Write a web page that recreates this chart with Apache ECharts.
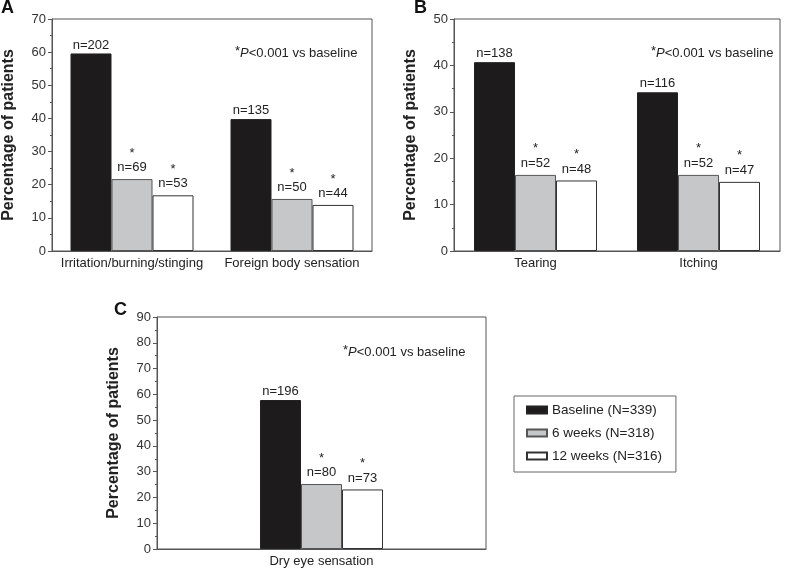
<!DOCTYPE html>
<html>
<head>
<meta charset="utf-8">
<script src="https://cdn.jsdelivr.net/npm/echarts@6/dist/echarts.min.js"></script>
<style>
html,body{margin:0;padding:0;background:#fff;}
#chart{width:786px;height:568px;}
</style>
</head>
<body>
<div id="chart"></div>
<script>
// ---- Data ----
const seriesNames = ['Baseline (N=339)', '6 weeks (N=318)', '12 weeks (N=316)'];

const categoriesA = ['Irritation/burning/stinging', 'Foreign body sensation'];
const baselineA = [59.6, 39.8];
const week6A = [21.7, 15.7];
const week12A = [16.8, 13.9];
const nBaselineA = [202, 135];
const n6A = [69, 50];
const n12A = [53, 44];

const categoriesB = ['Tearing', 'Itching'];
const baselineB = [40.7, 34.2];
const week6B = [16.4, 16.4];
const week12B = [15.2, 14.9];
const nBaselineB = [138, 116];
const n6B = [52, 52];
const n12B = [48, 47];

const categoriesC = ['Dry eye sensation'];
const baselineC = [57.8];
const week6C = [25.2];
const week12C = [23.1];
const nBaselineC = [196];
const n6C = [80];
const n12C = [73];

const yMaxA = 70, yMaxB = 50, yMaxC = 90;
const yInterval = 10;
const yTitle = 'Percentage of patients';
const noteParts = ['*', 'P', '<0.001 vs baseline'];

// ---- Styles ----
const font = 'Liberation Sans, Arial, Helvetica, sans-serif';
const colors = ['#1e1b1c', '#c6c7c9', '#ffffff'];
const borders = ['#222222', '#555555', '#333333'];
const axisColor = '#555';

function yAxisCfg(gridIndex, max) {
  return {
    type: 'value', gridIndex: gridIndex, min: 0, max: max, interval: yInterval,
    name: yTitle, nameLocation: 'middle', nameGap: 35,
    nameTextStyle: { fontFamily: font, fontSize: 16, fontWeight: 'bold', color: '#222' },
    axisLine: { show: true, lineStyle: { color: axisColor, width: 1 } },
    axisTick: { show: true, inside: false, length: 4, lineStyle: { color: axisColor } },
    minorTick: { show: true, splitNumber: 2, length: 2, lineStyle: { color: axisColor } },
    axisLabel: { fontFamily: font, fontSize: 13, color: '#333', margin: 6 },
    splitLine: { show: false }
  };
}
function xAxisCfg(gridIndex, cats) {
  return {
    type: 'category', gridIndex: gridIndex, data: cats,
    axisLine: { show: true, lineStyle: { color: axisColor, width: 1 } },
    axisTick: { show: false },
    axisLabel: { fontFamily: font, fontSize: 13, color: '#222', margin: 6, interval: 0, hideOverlap: false },
    splitLine: { show: false }
  };
}
function barSeries(idx, gridIdx, values, ns) {
  const star = idx > 0;
  return {
    type: 'bar', name: seriesNames[idx],
    xAxisIndex: gridIdx, yAxisIndex: gridIdx,
    data: values, barWidth: 41, barGap: '0%',
    itemStyle: { color: colors[idx], borderColor: borders[idx], borderWidth: 1 },
    label: {
      show: true, position: 'top', distance: star ? 4 : 1,
      fontFamily: font, color: '#222',
      formatter: function (p) {
        const t = '{n|n=' + ns[p.dataIndex] + '}';
        return star ? '{s|*}\n' + t : t;
      },
      rich: {
        s: { fontFamily: font, fontSize: 13, lineHeight: 14, color: '#222' },
        n: { fontFamily: font, fontSize: 13, lineHeight: 15, color: '#222' }
      }
    },
    emphasis: { disabled: true }
  };
}
function noteTitle(left, top) {
  return {
    text: '{a|' + noteParts[0] + '}{p|' + noteParts[1] + '}{b|' + noteParts[2] + '}',
    left: left, top: top, padding: 0,
    textStyle: {
      fontFamily: font, fontSize: 13, fontWeight: 'normal', color: '#222',
      rich: {
        a: { fontFamily: font, fontSize: 13, fontWeight: 'normal', color: '#222', padding: [0, 0, 3, 0] },
        p: { fontFamily: font, fontSize: 13, fontWeight: 'normal', fontStyle: 'italic', color: '#222' },
        b: { fontFamily: font, fontSize: 13, fontWeight: 'normal', color: '#222' }
      }
    }
  };
}
function letterTitle(t, left, top) {
  return { text: t, left: left, top: top, padding: 0,
    textStyle: { fontFamily: font, fontSize: 18, fontWeight: 'bold', color: '#111' } };
}

const chart = echarts.init(document.getElementById('chart'), null, { renderer: 'canvas' });
const gridStyle = { show: true, borderColor: axisColor, borderWidth: 1, backgroundColor: 'transparent', containLabel: false };

chart.setOption({
  animation: false,
  backgroundColor: '#fff',
  title: [
    letterTitle('A', 1, -1),
    letterTitle('B', 414, -1),
    letterTitle('C', 114, 301),
    noteTitle(235, 45),
    noteTitle(651, 45),
    noteTitle(343, 344)
  ],
  legend: {
    data: seriesNames, orient: 'vertical', left: 514, top: 396,
    icon: 'rect', itemWidth: 20, itemHeight: 7, itemGap: 9,
    padding: [7, 14, 9, 12],
    borderColor: '#666', borderWidth: 1,
    textStyle: { fontFamily: font, fontSize: 13.5, color: '#222', lineHeight: 14 },
    selectedMode: false
  },
  grid: [
    Object.assign({ left: 44, top: 19, width: 328, height: 232 }, gridStyle),
    Object.assign({ left: 454, top: 19, width: 326, height: 232 }, gridStyle),
    Object.assign({ left: 157, top: 317, width: 329, height: 233 }, gridStyle)
  ],
  xAxis: [xAxisCfg(0, categoriesA), xAxisCfg(1, categoriesB), xAxisCfg(2, categoriesC)],
  yAxis: [yAxisCfg(0, yMaxA), yAxisCfg(1, yMaxB), yAxisCfg(2, yMaxC)],
  series: [
    barSeries(0, 0, baselineA, nBaselineA),
    barSeries(1, 0, week6A, n6A),
    barSeries(2, 0, week12A, n12A),
    barSeries(0, 1, baselineB, nBaselineB),
    barSeries(1, 1, week6B, n6B),
    barSeries(2, 1, week12B, n12B),
    barSeries(0, 2, baselineC, nBaselineC),
    barSeries(1, 2, week6C, n6C),
    barSeries(2, 2, week12C, n12C)
  ]
});
</script>
</body>
</html>
